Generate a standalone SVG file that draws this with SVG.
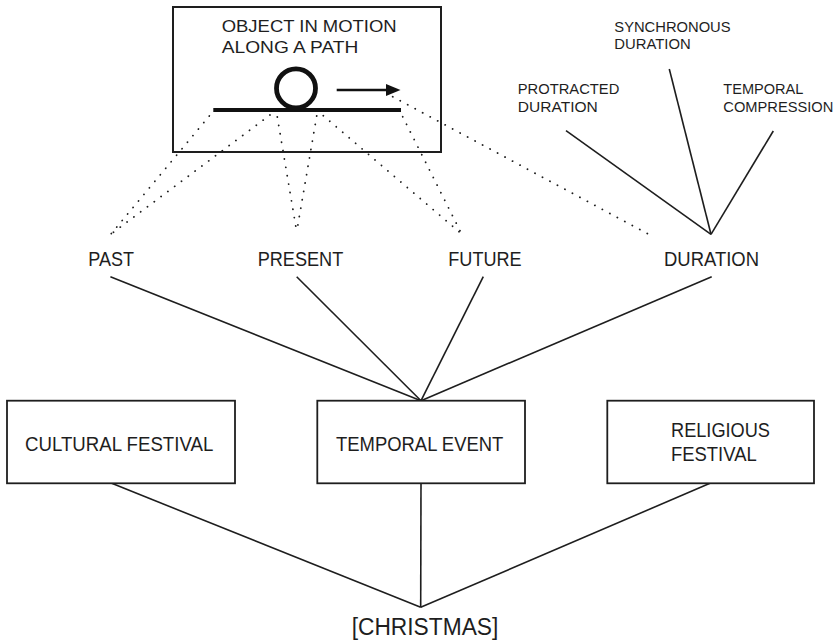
<svg xmlns="http://www.w3.org/2000/svg" width="836" height="642" viewBox="0 0 836 642">
  <defs>
    <style>
      .txt { font-family: "Liberation Sans", Arial, Helvetica, sans-serif; fill: #1e1e1e; }
      .lbl { font-size: 19.5px; }
      .sm { font-size: 14.5px; }
      .top { font-size: 17px; }
      .big { font-size: 23px; }
      .box { fill: #ffffff; stroke: #1e1e1e; stroke-width: 1.8; }
      .solid { stroke: #1e1e1e; stroke-width: 1.6; fill: none; }
      .dot { stroke: #1e1e1e; stroke-width: 1.8; fill: none; stroke-dasharray: 0.1 8.4; stroke-linecap: round; }
    </style>
  </defs>
  <rect width="836" height="642" fill="#ffffff"/>

  <!-- motion sketch frame (unfilled so the dotted projections show through) -->
  <g id="object-in-motion">
    <rect x="173" y="7" width="268" height="145" fill="none" stroke="#1e1e1e" stroke-width="2"/>
    <text class="txt top" x="221.7" y="31.7" textLength="175" lengthAdjust="spacingAndGlyphs">OBJECT IN MOTION</text>
    <text class="txt top" x="221.7" y="53.3" textLength="136.7" lengthAdjust="spacingAndGlyphs">ALONG A PATH</text>
    <line x1="213.3" y1="110" x2="401" y2="110" stroke="#111" stroke-width="4"/>
    <circle cx="296" cy="88.3" r="19.5" fill="none" stroke="#111" stroke-width="4.8"/>
    <line x1="336.7" y1="90" x2="388" y2="90" stroke="#111" stroke-width="2.4"/>
    <polygon points="386,84 400.5,90 386,96" fill="#111"/>
  </g>

  <!-- connectors -->
  <g id="connectors">
    <!-- dotted projections from the motion sketch -->
    <line class="dot" x1="209.3" y1="116" x2="110.7" y2="234.3"/>
    <line class="dot" x1="270" y1="115" x2="110.7" y2="234.3"/>
    <line class="dot" x1="277.3" y1="117" x2="296.7" y2="231.7"/>
    <line class="dot" x1="316.7" y1="116" x2="296.7" y2="231.7"/>
    <line class="dot" x1="323.3" y1="115.7" x2="461.7" y2="234"/>
    <line class="dot" x1="402.7" y1="116.7" x2="461.7" y2="234"/>
    <line class="dot" x1="392.7" y1="96.7" x2="650" y2="235"/>

    <!-- duration subtypes -->
    <line class="solid" x1="566" y1="130.7" x2="711" y2="234.3"/>
    <line class="solid" x1="669.3" y1="69" x2="711" y2="234.3"/>
    <line class="solid" x1="773.3" y1="131" x2="711" y2="234.3"/>

    <!-- time aspects into temporal event -->
    <line class="solid" x1="110.4" y1="276.7" x2="421" y2="400.7"/>
    <line class="solid" x1="296.7" y1="276.7" x2="421" y2="400.7"/>
    <line class="solid" x1="483.3" y1="276.7" x2="421" y2="400.7"/>
    <line class="solid" x1="711.7" y1="276.7" x2="421" y2="400.7"/>

    <!-- frames into christmas -->
    <line class="solid" x1="111.7" y1="483.3" x2="420.7" y2="607.3"/>
    <line class="solid" x1="421" y1="483.3" x2="420.7" y2="607.3"/>
    <line class="solid" x1="710" y1="483.3" x2="420.7" y2="607.3"/>
  </g>

  <g id="past"><text class="txt lbl" x="111.2" y="266" text-anchor="middle" textLength="45.7" lengthAdjust="spacingAndGlyphs">PAST</text></g>
  <g id="present"><text class="txt lbl" x="300.5" y="266" text-anchor="middle" textLength="85.6" lengthAdjust="spacingAndGlyphs">PRESENT</text></g>
  <g id="future"><text class="txt lbl" x="485" y="266" text-anchor="middle" textLength="73.4" lengthAdjust="spacingAndGlyphs">FUTURE</text></g>
  <g id="duration"><text class="txt lbl" x="711.5" y="266" text-anchor="middle" textLength="95" lengthAdjust="spacingAndGlyphs">DURATION</text></g>

  <g id="protracted-duration">
    <text class="txt sm" x="517.8" y="94.3" textLength="101.5" lengthAdjust="spacingAndGlyphs">PROTRACTED</text>
    <text class="txt sm" x="517.8" y="111.7" textLength="80" lengthAdjust="spacingAndGlyphs">DURATION</text>
  </g>
  <g id="synchronous-duration">
    <text class="txt sm" x="614.3" y="31.7" textLength="116.3" lengthAdjust="spacingAndGlyphs">SYNCHRONOUS</text>
    <text class="txt sm" x="614.3" y="49.3" textLength="76.4" lengthAdjust="spacingAndGlyphs">DURATION</text>
  </g>
  <g id="temporal-compression">
    <text class="txt sm" x="723.3" y="94.3" textLength="80" lengthAdjust="spacingAndGlyphs">TEMPORAL</text>
    <text class="txt sm" x="723.3" y="111.7" textLength="110" lengthAdjust="spacingAndGlyphs">COMPRESSION</text>
  </g>

  <g id="cultural-festival">
    <rect class="box" x="7" y="400.7" width="228" height="82.6"/>
    <text class="txt lbl" x="25" y="450.7" textLength="188.3" lengthAdjust="spacingAndGlyphs">CULTURAL FESTIVAL</text>
  </g>
  <g id="temporal-event">
    <rect class="box" x="317.3" y="400.7" width="207.7" height="82.6"/>
    <text class="txt lbl" x="336" y="450.7" textLength="167.3" lengthAdjust="spacingAndGlyphs">TEMPORAL EVENT</text>
  </g>
  <g id="religious-festival">
    <rect class="box" x="607.3" y="400.7" width="206.7" height="82.6"/>
    <text class="txt lbl" x="671" y="436.7" textLength="99" lengthAdjust="spacingAndGlyphs">RELIGIOUS</text>
    <text class="txt lbl" x="671" y="460.7" textLength="85.7" lengthAdjust="spacingAndGlyphs">FESTIVAL</text>
  </g>

  <g id="christmas">
    <text class="txt big" x="425" y="635" text-anchor="middle" textLength="146.7" lengthAdjust="spacingAndGlyphs">[CHRISTMAS]</text>
  </g>
</svg>
